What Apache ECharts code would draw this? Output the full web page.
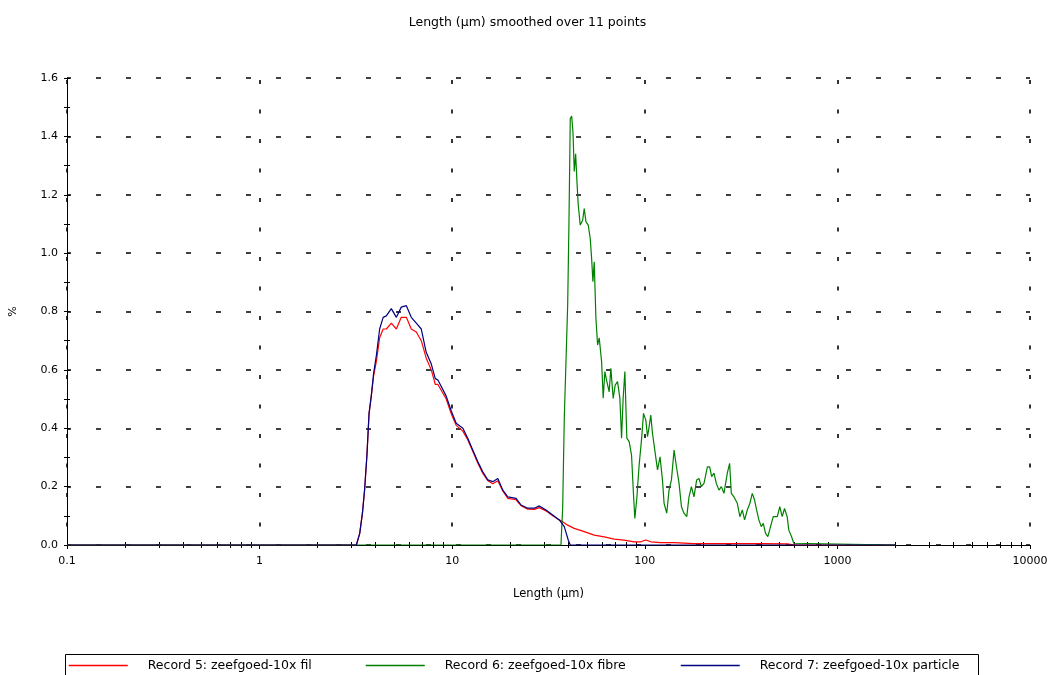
<!DOCTYPE html>
<html>
<head>
<meta charset="utf-8">
<script src="https://cdn.jsdelivr.net/npm/echarts@6/dist/echarts.min.js"></script>
<style>html,body{margin:0;padding:0;background:#fff}#c{width:1055px;height:675px}</style>
</head>
<body>
<div id="c"></div>
<script>
// ---- data (length in µm, frequency in %) ----
const titleText = 'Length (µm) smoothed over 11 points';
const xName = 'Length (µm)';
const yName = '%';
const seriesNames = ['Record 5: zeefgoed-10x fil', 'Record 6: zeefgoed-10x fibre', 'Record 7: zeefgoed-10x particle'];
const xMinorTicks = [0.2,0.3,0.4,0.5,0.6,0.7,0.8,0.9,2,3,4,5,6,7,8,9,20,30,40,50,60,70,80,90,200,300,400,500,600,700,800,900,2000,3000,4000,5000,6000,7000,8000,9000];

const filX = [0.1,3.18,3.31,3.42,3.51,3.61,3.70,3.80,3.91,4.04,4.20,4.38,4.55,4.83,5.13,5.44,5.78,6.13,6.51,6.91,7.33,7.79,8.17,8.43,9.31,9.88,10.49,11.36,12.06,12.80,13.59,14.43,15.31,16.25,17.25,18.31,19.44,21.46,22.78,24.67,26.70,28.34,30.69,33.25,35.97,37.46,39.77,43.03,48.48,54.62,61.53,69.33,78.10,88.01,95.35,101.2,107.4,121.0,141.9,179.5,269.2,399.0,550.7,600,2000];
const filY = [0,0,0.04,0.11,0.19,0.31,0.45,0.51,0.58,0.63,0.71,0.74,0.74,0.76,0.74,0.78,0.78,0.74,0.73,0.70,0.64,0.60,0.55,0.55,0.50,0.45,0.41,0.39,0.36,0.32,0.28,0.245,0.22,0.21,0.22,0.185,0.16,0.155,0.135,0.123,0.122,0.128,0.117,0.10,0.086,0.08,0.068,0.057,0.046,0.034,0.028,0.02,0.017,0.011,0.011,0.017,0.011,0.008,0.008,0.005,0.005,0.005,0.004,0,0];

const fibreX = [0.1,36.7,37.46,38.19,38.97,39.77,40.39,41.02,41.71,42.36,43.03,43.75,44.44,45.13,46.22,47.56,48.48,49.47,50.85,52.08,52.95,53.78,54.62,55.74,56.88,57.98,59.66,60.81,62.05,63.55,65.31,66.65,68.52,70.17,72.20,74.22,75.74,77.20,78.79,80.69,82.94,85.34,87.39,88.77,90.91,93.45,96.14,98.47,101.2,103.3,105.3,107.4,109.6,112.7,116.4,120.0,123.5,125.9,130.0,133.6,137.5,141.9,146.0,150.6,155.0,159.8,165.1,169.7,174.6,180.0,185.9,191.1,196.7,202.9,211.3,217.2,222.4,228.6,235.2,242.7,249.7,257.6,268.2,275.7,281.3,290.2,302.2,311.7,320.8,329.7,340.5,351.3,361.4,371.5,380.5,391.1,402.5,412.1,423.6,435.4,449.6,464.3,487.1,502.3,517.0,531.4,548.7,559.3,577.6,593.6,606.0,2000];
const fibreY = [0,0,0.126,0.434,0.628,0.822,1.108,1.46,1.47,1.416,1.28,1.34,1.245,1.165,1.096,1.113,1.153,1.108,1.096,1.05,0.982,0.902,0.97,0.777,0.685,0.71,0.628,0.503,0.594,0.56,0.525,0.605,0.502,0.548,0.56,0.503,0.366,0.503,0.594,0.366,0.354,0.308,0.171,0.091,0.16,0.274,0.36,0.451,0.428,0.371,0.405,0.445,0.383,0.325,0.257,0.302,0.223,0.143,0.109,0.188,0.223,0.325,0.268,0.211,0.131,0.109,0.097,0.165,0.2,0.165,0.223,0.228,0.2,0.211,0.268,0.268,0.234,0.246,0.211,0.188,0.2,0.177,0.246,0.28,0.177,0.165,0.143,0.097,0.12,0.086,0.12,0.143,0.177,0.154,0.12,0.086,0.063,0.074,0.04,0.029,0.063,0.097,0.097,0.131,0.097,0.125,0.097,0.051,0.029,0.006,0,0];

const particleX = [0.1,3.18,3.31,3.42,3.51,3.61,3.70,3.80,3.91,4.04,4.20,4.38,4.55,4.83,5.13,5.44,5.78,6.13,6.51,6.91,7.33,7.79,8.17,8.43,9.31,9.88,10.49,11.36,12.06,12.80,13.59,14.43,15.31,16.25,17.25,18.31,19.44,21.46,22.78,24.67,26.70,28.34,30.69,33.25,35.97,38.19,40.05,41.02,2000];
const particleY = [0,0,0.04,0.11,0.19,0.31,0.45,0.51,0.59,0.65,0.74,0.78,0.785,0.81,0.78,0.815,0.82,0.78,0.76,0.74,0.66,0.62,0.57,0.565,0.51,0.46,0.417,0.40,0.365,0.325,0.285,0.25,0.223,0.217,0.228,0.188,0.165,0.16,0.137,0.126,0.126,0.134,0.12,0.103,0.086,0.063,0.017,0,0];

const colors = ['#ff0000', '#008000', '#000080'];

function zip(xs, ys) { return xs.map((x, i) => [x, ys[i]]); }

const FONT = 'DejaVu Sans';
const chart = echarts.init(document.getElementById('c'), null, {renderer: 'canvas'});

const logAxisBase = {type: 'log', logBase: 10, min: 0.1, max: 10000, gridIndex: 0, position: 'bottom'};
const seriesData = [zip(filX, filY), zip(fibreX, fibreY), zip(particleX, particleY)];

function legendAt(i, left) {
  return {
    data: [seriesNames[i]],
    itemStyle: {opacity: 0},
    lineStyle: {color: colors[i], width: 1.5},
    left: left, top: 659, padding: 0,
    itemWidth: 59, itemHeight: 14, selectedMode: false,
    textStyle: {fontFamily: FONT, fontSize: 12.5, color: '#000', padding: [0, 0, 0, 15]}
  };
}

chart.setOption({
  animation: false,
  backgroundColor: '#fff',
  title: {text: titleText, left: 'center', top: 11,
    textStyle: {fontFamily: FONT, fontSize: 12.5, fontWeight: 'normal', color: '#000'}},
  grid: {left: 65, right: 25, top: 78, bottom: 130, containLabel: false},
  legend: [legendAt(0, 68), legendAt(1, 365), legendAt(2, 680)],
  graphic: [{type: 'rect', shape: {x: 65.5, y: 654.5, width: 913, height: 40},
    style: {fill: 'none', stroke: '#000', lineWidth: 1}, silent: true}],
  xAxis: [
    Object.assign({}, logAxisBase, {
      name: xName, nameLocation: 'middle', nameGap: 43,
      nameTextStyle: {fontFamily: FONT, fontSize: 11.5, color: '#000'},
      axisLine: {show: true, lineStyle: {color: '#000', width: 1}},
      axisTick: {show: true, length: 4, lineStyle: {color: '#000'}},
      axisLabel: {fontFamily: FONT, fontSize: 11, color: '#000', margin: 11,
        formatter: v => String(+Number(v).toPrecision(6))},
      splitLine: {show: true, lineStyle: {color: '#000', width: 1.6, type: [4, 25.5], dashOffset: 27.5}}
    }),
    Object.assign({}, logAxisBase, {
      axisLine: {show: false}, axisLabel: {show: false}, splitLine: {show: false},
      axisTick: {show: true, inside: true, length: 3, customValues: xMinorTicks, lineStyle: {color: '#000'}}
    }),
    Object.assign({}, logAxisBase, {
      axisLine: {show: false}, axisLabel: {show: false}, splitLine: {show: false},
      axisTick: {show: true, inside: false, length: 3, customValues: xMinorTicks, lineStyle: {color: '#000'}}
    })
  ],
  yAxis: [
    {type: 'value', min: 0, max: 1.6, interval: 0.2, position: 'left',
      name: yName, nameLocation: 'middle', nameGap: 48,
      nameTextStyle: {fontFamily: FONT, fontSize: 11, color: '#000'},
      axisLine: {show: true, lineStyle: {color: '#000', width: 1}},
      axisTick: {show: true, length: 3, lineStyle: {color: '#000'}},
      minorTick: {show: true, splitNumber: 2, length: 3, lineStyle: {color: '#000'}},
      axisLabel: {fontFamily: FONT, fontSize: 11, color: '#000', margin: 9, formatter: v => v.toFixed(1)},
      splitLine: {show: true, lineStyle: {color: '#000', width: 1.6, type: [5, 25], dashOffset: 1}}
    },
    {type: 'value', min: 0, max: 1.6, interval: 0.2, position: 'left',
      axisLine: {show: false}, axisLabel: {show: false}, splitLine: {show: false},
      axisTick: {show: true, inside: true, length: 3, lineStyle: {color: '#000'}},
      minorTick: {show: true, splitNumber: 2, length: 3, lineStyle: {color: '#000'}}
    }
  ],
  series: seriesNames.map((name, i) => ({
    name: name, type: 'line', xAxisIndex: 0, yAxisIndex: 0,
    data: seriesData[i], showSymbol: false, symbol: 'none', z: 3 + i,
    color: colors[i], itemStyle: {color: colors[i]},
    lineStyle: {color: colors[i], width: 1.2}, silent: true
  }))
});
</script>
</body>
</html>
